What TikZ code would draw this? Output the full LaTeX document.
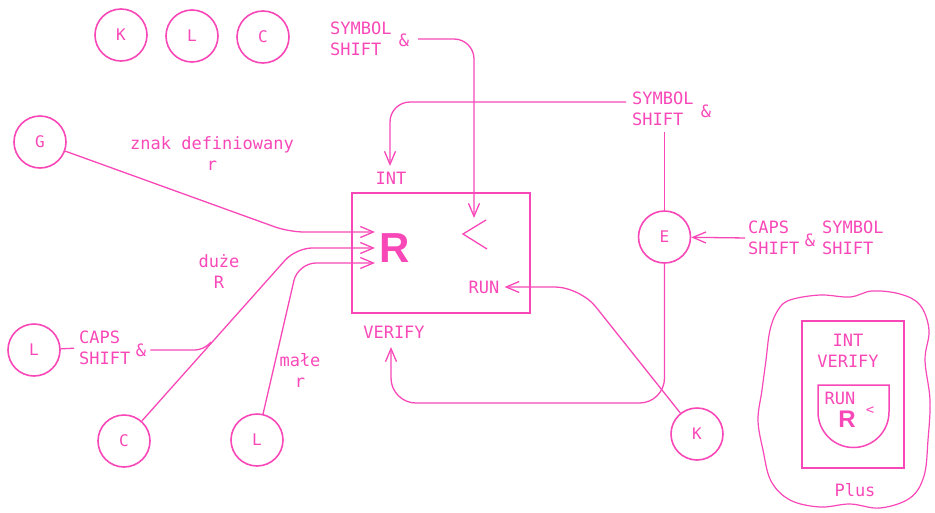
\documentclass[tikz,border=0pt]{standalone}
\usepackage{fontspec}
\newfontfamily\plotfont{DejaVu Sans Mono}
\newfontfamily\heavyfont{Liberation Sans}
\usetikzlibrary{arrows.meta}
\definecolor{ink}{RGB}{248,72,184}
\begin{document}
\begin{tikzpicture}[x=1pt,y=-1pt,
  key/.style={circle, draw=ink, line width=1.6pt, minimum size=52pt, inner sep=0pt,
    font=\plotfont\fontsize{16}{18}\selectfont, text=ink},
  lbl/.style={font=\plotfont\fontsize{17}{21}\selectfont, text=ink, inner sep=0pt, align=left},
  lblc/.style={lbl, align=center},
  wire/.style={draw=ink, line width=1.3pt},
  arr/.style={-{Straight Barb[length=13pt,width=11pt,line width=1.3pt]}}]
\useasboundingbox (0,0) rectangle (935,512);

% key circles
\node[key] (k1) at (121,35) {K};
\node[key] (l1) at (192,36) {L};
\node[key] (c1) at (263,37) {C};
\node[key] (g)  at (40,142) {G};
\node[key] (l2) at (34,350) {L};
\node[key] (c2) at (124,441) {C};
\node[key] (l3) at (257,440) {L};
\node[key] (e)  at (664.5,237) {E};
\node[key] (k2) at (697,434) {K};

% the cursor box
\node[draw=ink, line width=2.8pt, minimum width=178pt, minimum height=120pt, inner sep=0pt] (box) at (441,253) {};
\node[font=\heavyfont\bfseries\fontsize{42}{42}\selectfont, text=ink, inner sep=0pt] (bigR) at (395,248) {R};
\draw[wire] (486,220) -- (463,234) -- (487,249);

% labels
\node[lbl, anchor=west] (ss1) at (330,39) {SYMBOL\\SHIFT};
\node[lbl] (amp1) at (404,40) {\&};
\node[lbl] (int) at (391,178) {INT};
\node[lbl] (ver) at (394,332) {VERIFY};
\node[lbl] (run) at (484,287) {RUN};
\node[lblc] (znak) at (212,154) {znak definiowany\\r};
\node[lblc] (duze) at (219,272) {duże\\R};
\node[lblc] (male) at (300,370) {małe\\r};
\node[lbl, anchor=west] (caps1) at (79,348) {CAPS\\SHIFT};
\node[lbl] (amp2) at (141,350) {\&};
\node[lbl, anchor=west] (ss2) at (632,109) {SYMBOL\\SHIFT};
\node[lbl] (amp3) at (706,111) {\&};
\node[lbl, anchor=west] (caps2) at (748,238) {CAPS\\SHIFT};
\node[lbl] (amp4) at (810,240) {\&};
\node[lbl, anchor=west] (ss3) at (822,238) {SYMBOL\\SHIFT};

% connector ends
\coordinate (in1) at (375,232);
\coordinate (in2) at (375,248);
\coordinate (in3) at (375,263);
\coordinate (tlt) at (474,218);
\coordinate (s1) at (418,39);
\coordinate (s2) at (626,102);
\coordinate (tint) at (390,166);
\coordinate (s3) at (664.5,132);
\coordinate (tver) at (391,347);
\coordinate (tc) at (211,342);

% connectors
\draw[wire, arr, rounded corners=15] (g) -- (289,232) -- (in1);
\draw[wire, arr, rounded corners=16] (c2) -- (296,248) -- (in2);
\draw[wire, arr, rounded corners=18] (l3) -- (298,263) -- (in3);
\draw[wire, shorten >=5pt] (l2) -- (caps1.west);
\draw[wire, shorten <=4pt] (amp2.east) -- (193,350) to[out=0,in=228] (tc);
\draw[wire, arr, rounded corners=20] (s1) -- (474,39) -- (tlt);
\draw[wire, arr, rounded corners=20] (s2) -- (390,102) -- (tint);
\draw[wire, line width=1.1pt] (s3) -- (e);
\draw[wire, arr, shorten <=3pt] (caps2.west) -- (e);
\draw[wire, arr, rounded corners=25] (e) -- (664.5,403) -- (391,403) -- (tver);
\draw[wire, arr, rounded corners=25, shorten >=5pt] (k2) -- (580,287) -- (run.east);

% Plus variant of the cursor
\draw[wire, line width=1.2pt] plot[smooth cycle, tension=0.6] coordinates {
  (790,300) (820,295) (850,297) (872,291) (900,294) (920,305) (929,330)
  (925,360) (930,400) (928,440) (924,476) (910,498) (880,508) (850,504)
  (820,507) (790,500) (771,481) (763,450) (758,420) (762,390) (766,360)
  (770,330) (778,310)};
\node[draw=ink, line width=1.6pt, minimum width=102pt, minimum height=147pt, inner sep=0pt] (pbox) at (853,394.5) {};
\node[lblc] (pint) at (848,351) {INT\\VERIFY};
\draw[wire, line width=1.5pt] (818,385) -- (818,412) arc[start angle=180, end angle=360, radius=35.5pt] -- (889,385) -- cycle;
\node[lbl] (prun) at (840,398) {RUN};
\node[font=\heavyfont\bfseries\fontsize{24}{24}\selectfont, text=ink, inner sep=0pt] (pr) at (847,419) {R};
\node[lbl, font=\plotfont\fontsize{14}{16}\selectfont] (plt) at (870,411) {<};
\node[lbl] (plus) at (855,490) {Plus};
\end{tikzpicture}
\end{document}
